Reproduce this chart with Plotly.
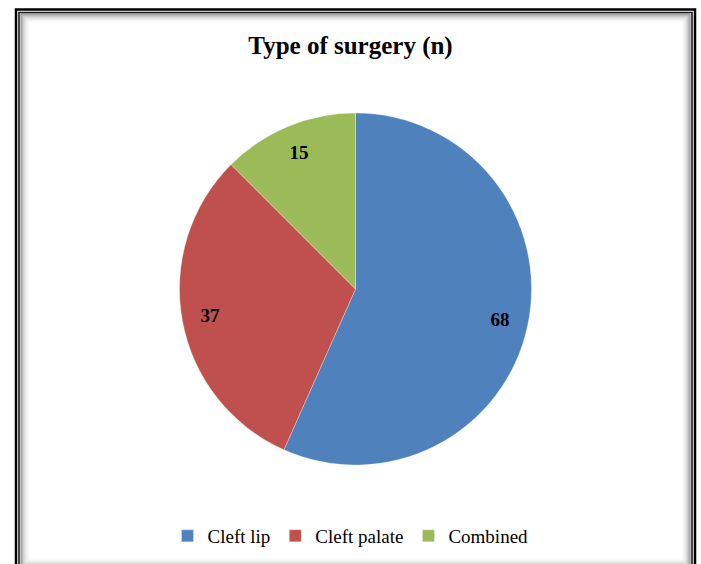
import plotly.graph_objects as go

W, H = 701, 564

categories = ["Cleft lip", "Cleft palate", "Combined"]
counts = [68, 37, 15]
colors = ["#4F81BD", "#C0504D", "#9BBB59"]
title_text = "Type of surgery (n)"

def px(x):
    return x / W

def py(y):
    return 1 - y / H

pie_domain = dict(x=[px(355.5 - 176), px(355.5 + 176)], y=[py(465), py(113)])

fig = go.Figure()
fig.add_trace(go.Pie(
    labels=categories,
    values=counts,
    marker=dict(colors=colors, line=dict(color="rgba(255,255,255,0.6)", width=0.5)),
    sort=False,
    direction="clockwise",
    rotation=0,
    textinfo="none",
    domain=pie_domain,
    hoverinfo="label+value",
))
fig.add_trace(go.Pie(
    labels=categories,
    values=counts,
    hole=0.68,
    marker=dict(colors=["rgba(0,0,0,0)"] * len(categories), line=dict(width=0)),
    sort=False,
    direction="clockwise",
    rotation=0,
    textinfo="value",
    textposition="inside",
    insidetextorientation="horizontal",
    textfont=dict(family="Liberation Serif", size=19, color="black", weight="bold"),
    domain=pie_domain,
    showlegend=False,
    hoverinfo="skip",
))

shapes = []
shapes.append(dict(type="rect", xref="paper", yref="paper",
                   x0=px(16), x1=px(695), y0=py(590), y1=py(9.5),
                   line=dict(color="black", width=2.5), fillcolor="rgba(0,0,0,0)", layer="above"))
shapes.append(dict(type="rect", xref="paper", yref="paper",
                   x0=px(19), x1=px(692), y0=py(570), y1=py(12.5),
                   line=dict(color="#1a1a1a", width=1.6), fillcolor="rgba(0,0,0,0)", layer="above"))
grays = ["#7a7a7a", "#959595", "#adadad", "#c2c2c2", "#d4d4d4", "#e2e2e2", "#ececec", "#f4f4f4", "#fafafa"]
for i, g in enumerate(grays):
    o = 21 + i
    shapes.append(dict(type="rect", xref="paper", yref="paper",
                       x0=px(o), x1=px(690 - i), y0=py(567 - i), y1=py(14 + i),
                       line=dict(color=g, width=1), fillcolor="rgba(0,0,0,0)", layer="below"))

fig.update_layout(
    width=W, height=H,
    margin=dict(l=0, r=0, t=0, b=0),
    paper_bgcolor="white",
    plot_bgcolor="white",
    title=dict(text="<b>" + title_text + "</b>", x=0.5, xanchor="center",
               y=py(45), yanchor="middle",
               font=dict(family="Liberation Serif", size=25, color="black")),
    legend=dict(orientation="h", x=0.5, xanchor="center", y=py(536), yanchor="middle",
                font=dict(family="Liberation Serif", size=19, color="black"),
                itemwidth=30, traceorder="normal"),
    shapes=shapes,
)

fig.write_html("out.html", config={"displayModeBar": False},
               post_script="document.body.style.margin='0';document.body.style.overflow='hidden';")
